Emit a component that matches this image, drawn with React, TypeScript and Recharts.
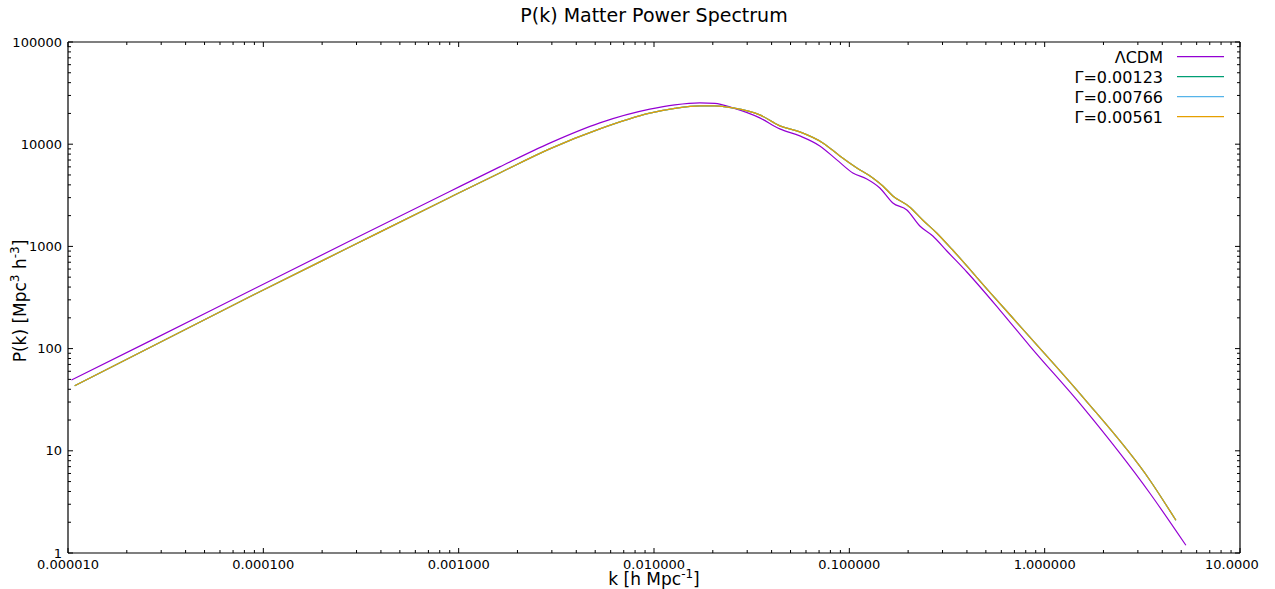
import { LineChart, Line, XAxis, YAxis } from 'recharts'

const W = 1275
const H = 589

// ΛCDM (k in h/Mpc, P in Mpc^3 h^-3)
const lcdmK = [
  1.041e-5, 2.62e-5, 8.52e-5, 2.77e-4, 9.0e-4, 1.623e-3, 2.926e-3, 5.28e-3, 9.52e-3, 0.01278,
  0.01716, 0.02048, 0.02532, 0.03479, 0.04406, 0.05578, 0.07062, 0.0863, 0.1042, 0.1229,
  0.1433, 0.167, 0.197, 0.2296, 0.2676, 0.3157, 0.3995, 0.5897, 0.84, 1.569, 3.457, 5.284,
]
const lcdmP = [
  49.2, 118.4, 365.8, 1129, 3449, 5995, 10250, 16170, 22020, 24260,
  25380, 25100, 22670, 18100, 14120, 12060, 9625, 7020, 5234, 4574,
  3733, 2661, 2273, 1584, 1264, 901.6, 561.6, 238.4, 105.8, 26.73, 3.843, 1.19,
]

// the three Γ curves lie on top of each other
const gammaK = [
  1.082e-5, 8.52e-5, 2.77e-4, 9.0e-4, 1.623e-3, 2.926e-3, 5.28e-3, 9.52e-3, 0.01278, 0.01716,
  0.02048, 0.02532, 0.03479, 0.04406, 0.05578, 0.07316, 0.08941, 0.1093, 0.1319, 0.1484,
  0.167, 0.2035, 0.2372, 0.2799, 0.338, 0.5231, 0.84, 1.569, 3.457, 4.697,
]
const gammaP = [
  43.22, 321.7, 986, 3013, 5234, 9000, 14120, 20120, 22410, 23720,
  23720, 22670, 19370, 15110, 13200, 10300, 7682, 5861, 4677, 3905,
  3116, 2432, 1814, 1353, 921.9, 357.6, 129.6, 33.5, 5.152, 2.091,
]

const seriesNames = ['ΛCDM', 'Γ=0.00123', 'Γ=0.00766', 'Γ=0.00561']
const seriesColors = ['#9400d3', '#009e73', '#56b4e9', '#e69f00']

const xMajor = [1e-5, 1e-4, 1e-3, 1e-2, 1e-1, 1, 10]
const xLabels = ['0.000010', '0.000100', '0.001000', '0.010000', '0.100000', '1.000000', '10.0000']
const yMajor = [1, 10, 100, 1000, 10000, 100000]
const yLabels = ['1', '10', '100', '1000', '10000', '100000']

const toRows = (k: number[], p: number[]) => k.map((v, i) => ({ k: v, p: p[i] }))
const lcdmData = toRows(lcdmK, lcdmP)
const gammaData = toRows(gammaK, gammaP)
const seriesData = [lcdmData, gammaData, gammaData, gammaData]

// majors plus the 2..9 minor log ticks in between
const withMinor = (majors: number[]) => {
  const out: number[] = []
  majors.forEach((m, i) => {
    out.push(m)
    if (i < majors.length - 1) for (let j = 2; j <= 9; j++) out.push(m * j)
  })
  return out
}
const xTicks = withMinor(xMajor)
const yTicks = withMinor(yMajor)

const FONT = 'DejaVu Sans, sans-serif'

function majorIndex(majors: number[], v: number) {
  return majors.findIndex((m) => Math.abs(m - v) / m < 1e-6)
}

type Side = 'bottom' | 'top' | 'left' | 'right'

function makeTick(side: Side, majors: number[], labels: string[] | null) {
  return (props: any) => {
    const { x, y, payload } = props
    const idx = majorIndex(majors, payload.value)
    const len = idx >= 0 ? 5 : 3
    let x2 = x
    let y2 = y
    if (side === 'bottom') y2 = y - len
    if (side === 'top') y2 = y + len
    if (side === 'left') x2 = x + len
    if (side === 'right') x2 = x - len
    let label = null
    if (labels && idx >= 0) {
      if (side === 'bottom') {
        const last = idx === majors.length - 1
        label = (
          <text x={last ? x - 35 : x} y={y + 16} textAnchor={last ? 'start' : 'middle'} fontSize={13} fontFamily={FONT} fill="#000">
            {labels[idx]}
          </text>
        )
      } else {
        label = (
          <text x={x - 6} y={y + 4.5} textAnchor="end" fontSize={13} fontFamily={FONT} fill="#000">
            {labels[idx]}
          </text>
        )
      }
    }
    return (
      <g>
        <line x1={x} y1={y} x2={x2} y2={y2} stroke="#000" strokeWidth={1} />
        {label}
      </g>
    )
  }
}

const axisCommon = {
  type: 'number' as const,
  scale: 'log' as const,
  allowDataOverflow: true,
  interval: 0 as const,
  tickLine: false,
  tickSize: 0,
  tickMargin: 0,
  axisLine: { stroke: '#000', strokeWidth: 1.2 },
}

export default function App() {
  return (
    <div style={{ position: 'absolute', left: 0, top: 0, width: W, height: H, background: '#fff' }}>
      <LineChart width={W} height={H} margin={{ top: 41, right: 34, bottom: 35, left: 67 }}>
        <XAxis {...axisCommon} xAxisId="b" dataKey="k" domain={[1e-5, 10]} ticks={xTicks} height={1} tick={makeTick('bottom', xMajor, xLabels)} />
        <XAxis {...axisCommon} xAxisId="t" orientation="top" dataKey="k" domain={[1e-5, 10]} ticks={xTicks} height={1} tick={makeTick('top', xMajor, null)} />
        <YAxis {...axisCommon} yAxisId="l" dataKey="p" domain={[1, 100000]} ticks={yTicks} width={1} tick={makeTick('left', yMajor, yLabels)} />
        <YAxis {...axisCommon} yAxisId="r" orientation="right" dataKey="p" domain={[1, 100000]} ticks={yTicks} width={1} tick={makeTick('right', yMajor, null)} />
        {seriesNames.map((name, i) => (
          <Line
            key={name}
            xAxisId="b"
            yAxisId="l"
            data={seriesData[i]}
            dataKey="p"
            name={name}
            type="monotone"
            stroke={seriesColors[i]}
            strokeWidth={1.2}
            dot={false}
            activeDot={false}
            isAnimationActive={false}
          />
        ))}
      </LineChart>
      <svg width={W} height={H} style={{ position: 'absolute', left: 0, top: 0, pointerEvents: 'none' }} fontFamily={FONT}>
        <text x={654} y={22} textAnchor="middle" fontSize={19} fill="#000">P(k) Matter Power Spectrum</text>
        <text x={654} y={585} textAnchor="middle" fontSize={17} fill="#000">
          k [h Mpc<tspan fontSize={12} dy={-7}>-1</tspan><tspan dy={7}>]</tspan>
        </text>
        <text transform="translate(26,301) rotate(-90)" textAnchor="middle" fontSize={17} fill="#000">
          P(k) [Mpc<tspan fontSize={12} dy={-7}>3</tspan><tspan dy={7}> h</tspan><tspan fontSize={12} dy={-7}>-3</tspan><tspan dy={7}>]</tspan>
        </text>
        {seriesNames.map((name, i) => (
          <g key={name}>
            <text x={1163} y={62.5 + i * 20} textAnchor="end" fontSize={16} fill="#000">{name}</text>
            <line x1={1177} x2={1224} y1={56.7 + i * 20} y2={56.7 + i * 20} stroke={seriesColors[i]} strokeWidth={1.2} />
          </g>
        ))}
      </svg>
    </div>
  )
}
